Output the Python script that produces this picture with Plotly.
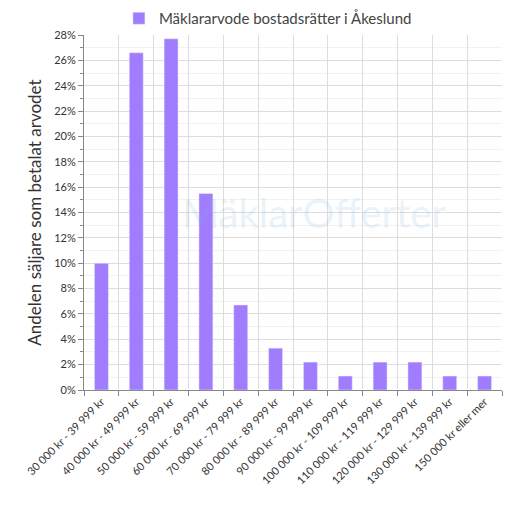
import plotly.graph_objects as go

# price ranges and share of sellers (%)
categories = ["30 000 kr - 39 999 kr", "40 000 kr - 49 999 kr", "50 000 kr - 59 999 kr",
              "60 000 kr - 69 999 kr", "70 000 kr - 79 999 kr", "80 000 kr - 89 999 kr",
              "90 000 kr - 99 999 kr", "100 000 kr - 109 999 kr", "110 000 kr - 119 999 kr",
              "120 000 kr - 129 999 kr", "130 000 kr - 139 999 kr", "150 000 kr eller mer"]
shares = [10.0, 26.6, 27.7, 15.5, 6.7, 3.3, 2.2, 1.1, 2.2, 2.2, 1.1, 1.1]
ytick_vals = list(range(0, 29, 2))
ytick_text = [f"{v}%" for v in ytick_vals]

fig = go.Figure()
fig.add_trace(go.Bar(x=categories, y=shares, name="Mäklararvode bostadsrätter i Åkeslund",
                     marker_color="#a07cff", width=0.4, showlegend=True))

fig.add_annotation(text="MäklarOfferter", x=0.55, y=0.5, xref="paper", yref="paper",
                   showarrow=False, font=dict(size=40, color="rgba(120,180,220,0.18)", family="Lato"))

fig.update_layout(
    width=520, height=520,
    margin=dict(l=76, r=26, t=27, b=138, autoexpand=False),
    plot_bgcolor="white", paper_bgcolor="white",
    font=dict(family="Lato, DejaVu Sans", color="#333"),
    legend=dict(orientation="h", x=0.44, xanchor="center", y=1.0, yanchor="bottom",
                font=dict(size=15, color="#444")),
    bargap=0.6,
)
fig.update_xaxes(tickangle=-45, tickfont=dict(size=11), showgrid=True, gridcolor="#ddd",
                 tickson="boundaries", ticks="outside", ticklen=5, tickcolor="#888",
                 showline=True, linecolor="#888", mirror=False)
fig.update_yaxes(range=[0, 28], tickvals=ytick_vals, ticktext=ytick_text, tickfont=dict(size=11),
                 showgrid=True, gridcolor="#ddd", ticks="outside", ticklen=5, tickcolor="#888",
                 minor=dict(dtick=1, ticks="outside", ticklen=3, tickcolor="#888", showgrid=True, gridcolor="#f2f2f2"),
                 title=dict(text="Andelen säljare som betalat arvodet", font=dict(size=17, color="#333"),
                            standoff=8),
                 showline=True, linecolor="#888")

fig.write_html("out.html")
